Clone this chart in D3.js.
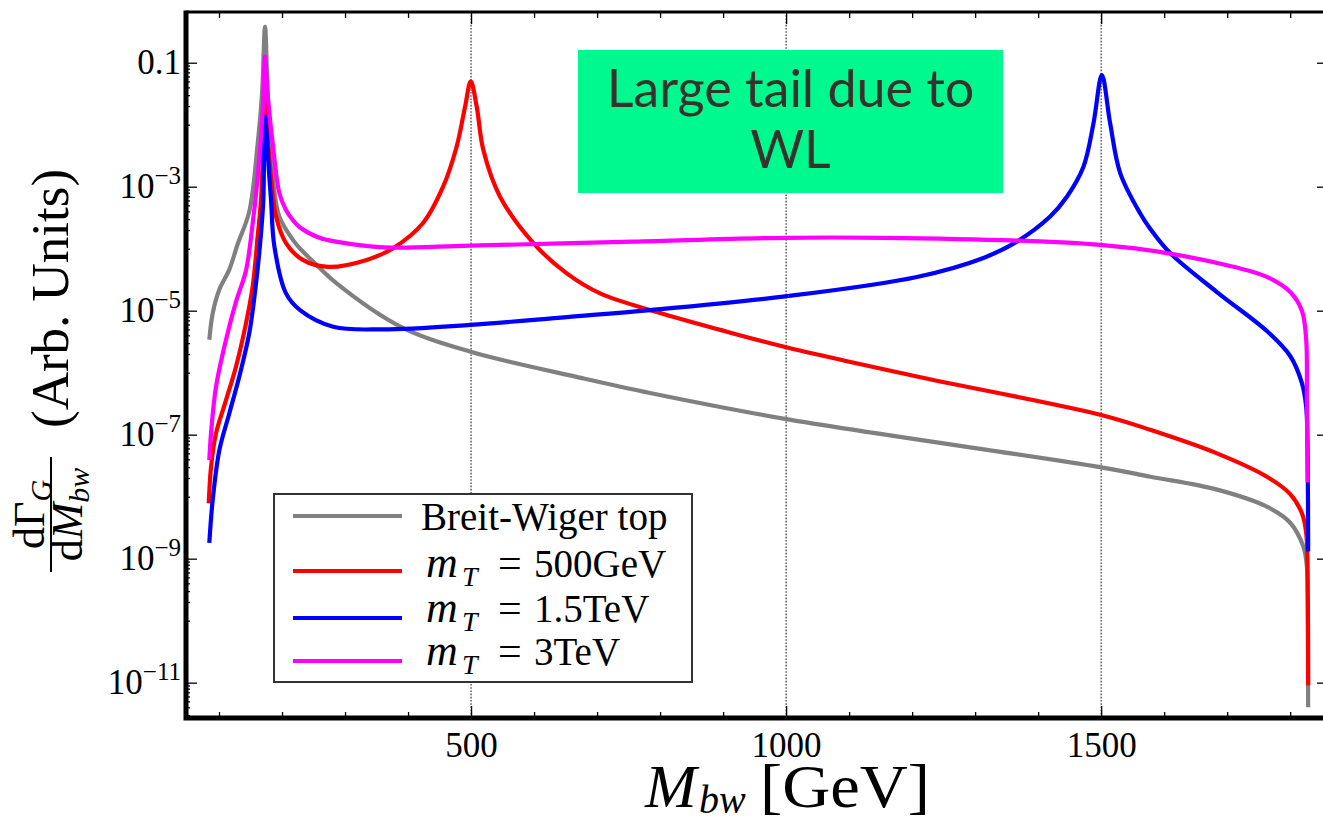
<!DOCTYPE html>
<html>
<head>
<meta charset="utf-8">
<script src="https://cdn.jsdelivr.net/npm/d3@7"></script>
<style>
  html, body { margin: 0; padding: 0; background: #ffffff; }
  svg { display: block; }
</style>
</head>
<body>
<svg id="chart" width="1323" height="823"></svg>
<script>
// ---- Differential width dΓ/dM_bw, one curve per top-partner mass ----
// Breit-Wigner top
const massBW = [84.6, 90, 100.5, 116.3, 129.4, 148.1, 161.4, 168.3, 173, 177.3, 185.2, 195.7, 217, 228.6, 248.7, 285.7, 387, 498, 678, 784, 998, 1498, 1578, 1684, 1763, 1800, 1821, 1826.5, 1827.8, 1828.5];
const rateBW = [3.4e-6, 9.1e-6, 2.2e-5, 4.6e-5, 1.17e-4, 4.0e-4, 5.0e-3, 3.2e-2, 0.38, 3.2e-2, 1.45e-3, 3.3e-4, 1.4e-4, 1.0e-4, 6.3e-5, 2.8e-5, 5.6e-6, 2.2e-6, 8.1e-7, 4.7e-7, 1.8e-7, 3.0e-8, 2.1e-8, 1.3e-8, 6.9e-9, 3.8e-9, 1.55e-9, 7.4e-10, 1.6e-10, 4e-12];

// m_T = 500 GeV
const massT500 = [83.7, 87.3, 95.2, 111.1, 127, 142.9, 153.5, 161.4, 166.7, 170.3, 173, 177.3, 182.5, 190.5, 206.3, 232.9, 273, 334.4, 376.2, 423.8, 455.6, 477.3, 490.5, 499.5, 509, 519.5, 546, 598.9, 651.9, 704.8, 794.8, 895.2, 998.4, 1207.5, 1498.4, 1577.8, 1683.7, 1763, 1800, 1818.6, 1825.4, 1827.8, 1828.5];
const rateT500 = [7.8e-9, 3.0e-8, 1.05e-7, 3.6e-7, 1.26e-6, 6.3e-6, 2.5e-5, 1.6e-4, 6.2e-4, 5.0e-3, 5.0e-2, 6.3e-3, 1.45e-3, 3.3e-4, 1.23e-4, 6.6e-5, 5.1e-5, 6.6e-5, 1.02e-4, 2.6e-4, 1.0e-3, 4.5e-3, 1.95e-2, 5.0e-2, 1.95e-2, 3.9e-3, 6.9e-4, 1.23e-4, 4.0e-5, 1.9e-5, 9.5e-6, 4.9e-6, 2.6e-6, 8.7e-7, 2.1e-7, 1.2e-7, 5.0e-8, 2.1e-8, 1.1e-8, 5.4e-9, 2.6e-9, 3.2e-10, 9.1e-12];

// m_T = 1.5 TeV
const massT1500 = [84.6, 90, 100.5, 116.3, 132.2, 148.1, 158.7, 166.7, 170.3, 173, 179.8, 182.5, 187.8, 206.3, 228.6, 281.4, 360.8, 498.4, 651.9, 784, 998.4, 1207.5, 1313.2, 1366.2, 1419, 1445.6, 1471.9, 1487.8, 1501.1, 1514.3, 1530.2, 1562, 1577.8, 1609.5, 1683.7, 1763, 1800, 1818.6, 1825.4, 1827.8, 1828.5];
const rateT1500 = [1.8e-9, 8.9e-9, 5.6e-8, 2.2e-7, 8.7e-7, 4.4e-6, 2.75e-5, 1.8e-4, 6.2e-4, 1.35e-2, 1.45e-3, 6.2e-4, 1.1e-4, 1.9e-5, 1.02e-5, 5.5e-6, 5.0e-6, 5.9e-6, 7.9e-6, 1.02e-5, 1.7e-5, 3.5e-5, 7.1e-5, 1.3e-4, 3.3e-4, 6.9e-4, 2.1e-3, 1.05e-2, 6.3e-2, 1.05e-2, 1.66e-3, 3.7e-4, 2.1e-4, 8.5e-5, 2.0e-5, 4.7e-6, 1.86e-6, 6.8e-7, 2.8e-7, 3.2e-8, 1.3e-9];

// m_T = 3 TeV
const massT3000 = [84.6, 87.3, 95.2, 111.1, 127, 142.9, 153.5, 161.4, 169.4, 173, 177, 185.2, 195.7, 206.3, 217, 228.6, 259.2, 285.7, 360.8, 498.4, 757.6, 998.4, 1154, 1366.2, 1498.4, 1604.3, 1710, 1763, 1800, 1818.6, 1825.4, 1826.5, 1827.8];
const rateT3000 = [3.9e-8, 1.05e-7, 5.9e-7, 3.4e-6, 1.4e-5, 4.5e-5, 2.6e-4, 1.45e-3, 1.7e-2, 0.126, 3.2e-2, 5.0e-3, 7.9e-4, 4.2e-4, 2.9e-4, 2.2e-4, 1.5e-4, 1.3e-4, 1.05e-4, 1.12e-4, 1.3e-4, 1.5e-4, 1.5e-4, 1.35e-4, 1.15e-4, 8.5e-5, 5.1e-5, 3.5e-5, 2.0e-5, 1.0e-5, 3.4e-6, 3.6e-7, 1.7e-8];

// legend entries (drawing order) and colours
const seriesNames  = ["Breit-Wiger top", "500GeV", "1.5TeV", "3TeV"];
const seriesColors = ["#808080", "#ff0000", "#0000ff", "#ff00ff"];

// axis ticks
const xMajorTicks = [500, 1000, 1500];
const xMinorTicks = [100, 200, 300, 400, 600, 700, 800, 900, 1100, 1200, 1300, 1400, 1600, 1700, 1800];
const yMajorTicks = [1e-1, 1e-3, 1e-5, 1e-7, 1e-9, 1e-11];
const yTickMantissa = ["0.1", "10", "10", "10", "10", "10"];
const yTickExponent = ["", "\u22123", "\u22125", "\u22127", "\u22129", "\u221211"];
const yMinorDecades = [-12, -10, -8, -6, -4, -2, 0];

const annotationLines = ["Large tail due to", "WL"];

// ---- build ----
const series = [
  { mass: massBW,    rate: rateBW },
  { mass: massT500,  rate: rateT500 },
  { mass: massT1500, rate: rateT1500 },
  { mass: massT3000, rate: rateT3000 }
].map((s, i) => ({
  name: seriesNames[i],
  color: seriesColors[i],
  points: s.mass.map((m, j) => ({ m: m, v: s.rate[j] }))
}));

const yMinorTicks = [];
yMinorDecades.forEach(e => {
  for (let k = 1; k <= 9; k++) yMinorTicks.push(k * Math.pow(10, e));
});

const svg = d3.select("#chart");
const plot = { left: 186, right: 1328, top: 12, bottom: 718 };

const x = d3.scaleLinear().domain([47.6, 1860]).range([plot.left, plot.right]);
const y = d3.scaleLog().domain([Math.pow(10, -11.57), Math.pow(10, -0.182)]).range([plot.bottom, plot.top]);

const serif = "'Liberation Serif', 'Times New Roman', serif";

// dotted vertical grid at the major mass ticks
svg.append("g").selectAll("line").data(xMajorTicks).join("line")
  .attr("x1", d => x(d)).attr("x2", d => x(d))
  .attr("y1", plot.top).attr("y2", plot.bottom)
  .attr("stroke", "#333").attr("stroke-width", 1.2)
  .attr("stroke-dasharray", "1.6,1.6");

// annotation box
const box = { x0: 578, x1: 1003, y0: 50, y1: 193 };
svg.append("rect")
  .attr("x", box.x0).attr("y", box.y0)
  .attr("width", box.x1 - box.x0).attr("height", box.y1 - box.y0)
  .attr("fill", "#00f98f");
svg.append("g").selectAll("text").data(annotationLines).join("text")
  .attr("x", (box.x0 + box.x1) / 2)
  .attr("y", (d, i) => 107 + i * 61)
  .attr("text-anchor", "middle")
  .attr("font-family", "Lato, 'Open Sans', sans-serif")
  .attr("font-size", 52)
  .attr("fill", "#36332c")
  .text(d => d);

// curves
svg.append("defs").append("clipPath").attr("id", "plotClip")
  .append("rect")
  .attr("x", plot.left).attr("y", plot.top)
  .attr("width", plot.right - plot.left).attr("height", plot.bottom - plot.top);

const line = d3.line()
  .x(d => x(d.m))
  .y(d => y(d.v))
  .curve(d3.curveCatmullRom.alpha(0.5));

svg.append("g").attr("clip-path", "url(#plotClip)")
  .selectAll("path").data(series).join("path")
  .attr("d", d => line(d.points))
  .attr("fill", "none")
  .attr("stroke", d => d.color)
  .attr("stroke-width", 4.2)
  .attr("stroke-linejoin", "round");

// ---- axes (ticks point inward) ----
function strip(g) { g.select(".domain").remove(); }

// bottom
svg.append("g").attr("transform", `translate(0,${plot.bottom})`)
  .call(d3.axisBottom(x).tickValues(xMinorTicks).tickSize(-6).tickFormat(""))
  .call(strip);
const xb = svg.append("g").attr("transform", `translate(0,${plot.bottom})`)
  .call(d3.axisBottom(x).tickValues(xMajorTicks).tickSize(-12).tickFormat(d3.format("d")))
  .call(strip);
xb.selectAll("text")
  .attr("y", 39).attr("dy", 0)
  .attr("font-family", serif).attr("font-size", 35).attr("fill", "#000");

// top
svg.append("g").attr("transform", `translate(0,${plot.top})`)
  .call(d3.axisTop(x).tickValues(xMinorTicks).tickSize(-6).tickFormat(""))
  .call(strip);
svg.append("g").attr("transform", `translate(0,${plot.top})`)
  .call(d3.axisTop(x).tickValues(xMajorTicks).tickSize(-12).tickFormat(""))
  .call(strip);

// left
const yMinorInView = yMinorTicks.filter(v => v > y.domain()[0] && v < y.domain()[1]);
svg.append("g").attr("transform", `translate(${plot.left},0)`)
  .call(d3.axisLeft(y).tickValues(yMinorInView).tickSize(-4).tickFormat(""))
  .call(strip);
const yl = svg.append("g").attr("transform", `translate(${plot.left},0)`)
  .call(d3.axisLeft(y).tickValues(yMajorTicks).tickSize(-11).tickFormat(""))
  .call(strip);
yl.selectAll(".tick text").remove();
yl.selectAll(".tick").each(function (d, i) {
  const t = d3.select(this).append("text")
    .attr("x", -5).attr("y", 11)
    .attr("text-anchor", "end")
    .attr("font-family", serif).attr("font-size", 35).attr("fill", "#000");
  t.append("tspan").text(yTickMantissa[i]);
  if (yTickExponent[i]) {
    t.append("tspan").attr("dy", -14).attr("font-size", 25).text(yTickExponent[i]);
  }
});

// right
svg.append("g").attr("transform", `translate(${plot.right},0)`)
  .call(d3.axisRight(y).tickValues(yMinorInView).tickSize(-4).tickFormat(""))
  .call(strip);
svg.append("g").attr("transform", `translate(${plot.right},0)`)
  .call(d3.axisRight(y).tickValues(yMajorTicks).tickSize(-11).tickFormat(""))
  .call(strip);

svg.selectAll(".tick line").attr("stroke", "#000").attr("stroke-width", 1.3);

// frame
svg.append("path")
  .attr("d", `M${plot.left},${plot.top}H${plot.right}V${plot.bottom}`)
  .attr("fill", "none").attr("stroke", "#000").attr("stroke-width", 3);
svg.append("path")
  .attr("d", `M${plot.left},${plot.top - 1.5}V${plot.bottom}H${plot.right}`)
  .attr("fill", "none").attr("stroke", "#000").attr("stroke-width", 5);

// ---- legend ----
const legend = svg.append("g");
legend.append("rect")
  .attr("x", 274).attr("y", 494).attr("width", 418).attr("height", 188)
  .attr("fill", "#fff").attr("stroke", "#333").attr("stroke-width", 2);
const rowLineY = [516, 571, 618, 661];
const rowTextY = [530, 577, 622, 665];
series.forEach((s, i) => {
  legend.append("line")
    .attr("x1", 293).attr("x2", 402)
    .attr("y1", rowLineY[i]).attr("y2", rowLineY[i])
    .attr("stroke", s.color).attr("stroke-width", 4.2);
  if (i === 0) {
    legend.append("text").attr("x", 421).attr("y", rowTextY[i])
      .attr("font-family", serif).attr("font-size", 39).text(s.name);
  } else {
    const g = legend.append("g").attr("font-family", serif).attr("font-size", 39);
    g.append("text").attr("x", 426).attr("y", rowTextY[i])
      .attr("font-style", "italic").attr("font-size", 44).text("m");
    g.append("text").attr("x", 462).attr("y", rowTextY[i] + 9).attr("font-style", "italic").attr("font-size", 28).text("T");
    g.append("text").attr("x", 498).attr("y", rowTextY[i]).attr("font-size", 42).text("=");
    g.append("text").attr("x", 534).attr("y", rowTextY[i]).text(s.name);
  }
});

// ---- axis titles ----
const xt = svg.append("g").attr("font-family", serif);
xt.append("text").attr("x", 645).attr("y", 807).attr("font-size", 62).attr("font-style", "italic").text("M");
xt.append("text").attr("x", 699).attr("y", 813).attr("font-size", 40).attr("font-style", "italic").text("bw");
xt.append("text").attr("x", 760).attr("y", 807).attr("font-size", 62)
  .attr("textLength", 170).attr("lengthAdjust", "spacingAndGlyphs").text("[GeV]");

// rotated y title: fraction followed by "(Arb. Units)"
const yt = svg.append("g").attr("transform", "translate(68,0) rotate(-90)")
  .attr("font-family", serif);
yt.append("text").attr("x", -428).attr("y", 0).attr("font-size", 53).text("(Arb. Units)");
const fracMid = -514.5;
const num = yt.append("text").attr("x", fracMid).attr("y", -24).attr("text-anchor", "middle").attr("font-size", 44);
num.append("tspan").text("d\u0393");
num.append("tspan").attr("font-style", "italic").attr("font-size", 30).attr("dy", 7).text("G");
yt.append("line").attr("x1", -572).attr("x2", -457).attr("y1", -17).attr("y2", -17)
  .attr("stroke", "#000").attr("stroke-width", 2);
const den = yt.append("text").attr("x", fracMid).attr("y", 14).attr("text-anchor", "middle").attr("font-size", 44);
den.append("tspan").text("d");
den.append("tspan").attr("font-style", "italic").text("M");
den.append("tspan").attr("font-style", "italic").attr("font-size", 30).attr("dy", 7).text("bw");
</script>
</body>
</html>
